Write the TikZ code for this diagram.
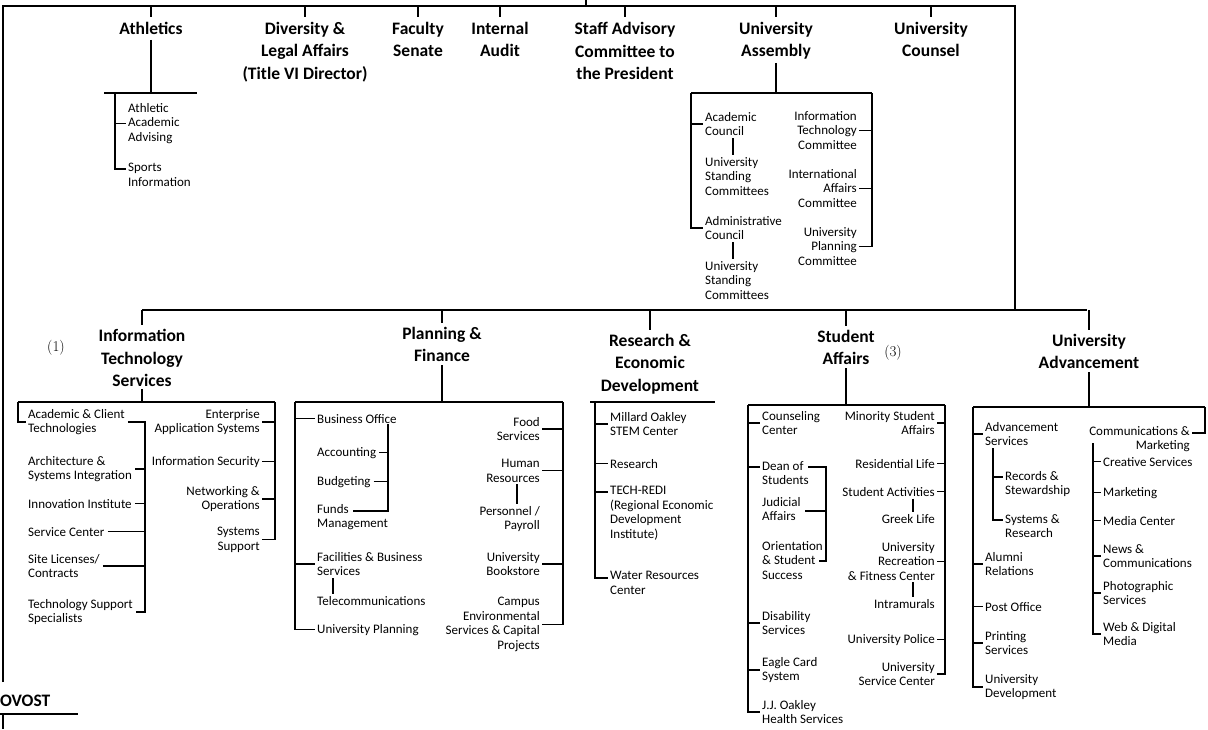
\documentclass[tikz,border=0pt]{standalone}
\usepackage{fontspec}
\setmainfont{Carlito}
\newfontfamily\notefont{Latin Modern Roman}
\usetikzlibrary{calc}
\newcommand\hdfont{\fontsize{17.5}{22.5}\selectfont\bfseries}
\newcommand\sbfont{\fontsize{13}{14.5}\selectfont}
\begin{document}
\begin{tikzpicture}[x=1pt,y=-1pt,
  ln/.style={line width=1.8pt},
  tk/.style={line width=1.3pt},
  hd/.style={anchor=north, align=center, font=\hdfont, inner sep=0pt},
  lt/.style={anchor=north west, align=left, font=\sbfont, inner sep=0pt},
  rt/.style={anchor=north east, align=right, font=\sbfont, inner sep=0pt},
  nt/.style={font=\notefont\fontsize{15}{17}\selectfont, inner sep=0pt}]
\useasboundingbox[fill=white] (0,0) rectangle (1208,729);

% ---------- top level ----------
\coordinate (tl) at (3,6);
\coordinate (tr) at (1015,6);
\coordinate (lb) at (3,682);
\coordinate (pres) at (586,0);
\coordinate (ml) at (142,310);
\coordinate (mr) at (1087,310);
\draw[ln] (lb) -- (tl) -- (tr) -- (tr |- ml);
\draw[ln] (pres) -- (pres |- tl);
\draw[ln] (ml) -- (mr);

\node[hd] (ath) at (151,22) {Athletics};
\node[hd] (div) at (305,22) {Diversity \&\\Legal Affairs\\(Title VI Director)};
\node[hd] (fac) at (418,22) {Faculty\\Senate};
\node[hd] (aud) at (500,22) {Internal\\Audit};
\node[hd] (staff) at (625,22) {Staff Advisory\\Committee to\\the President};
\node[hd] (ua) at (776,22) {University\\Assembly};
\node[hd] (uc) at (931,22) {University\\Counsel};
\foreach \n in {ath,div,fac,aud,staff,ua,uc}
  \draw[tk,shorten >=5pt] (\n.north |- tl) -- (\n.north);

% Athletics
\coordinate (athL) at (104,93);
\coordinate (athR) at (197,93);
\coordinate (athb) at (115,93);
\draw[ln] (athL) -- (athR);
\draw[ln,shorten <=5pt] (ath.south) -- (ath.south |- athL);
\node[lt] (aaa) at (128,103) {Athletic\\Academic\\Advising};
\node[lt] (si) at (128,163) {Sports\\Information};
\draw[tk] (athb) |- ([shift={(-2,6)}]si.north west);
\draw[tk] (aaa.west -| athb) -- ([xshift=-2pt]aaa.west);

% University Assembly
\coordinate (uaL) at (691,93);
\coordinate (uaR) at (872,93);
\draw[ln] (uaL) -- (uaR);
\draw[ln,shorten <=3pt] (ua.south) -- (ua.south |- uaL);
\node[lt] (acc) at (705,112) {Academic\\Council};
\node[lt] (usc1) at (705,157) {University\\Standing\\Committees};
\node[lt] (adc) at (705,216) {Administrative\\Council};
\node[lt] (usc2) at (705,261) {University\\Standing\\Committees};
\node[rt] (itc) at (857,111) {Information\\Technology\\Committee};
\node[rt] (iac) at (857,169) {International\\Affairs\\Committee};
\node[rt] (upc) at (857,227) {University\\Planning\\Committee};
\draw[tk] (uaL) |- ([xshift=-2pt]adc.west);
\draw[tk] (acc.west -| uaL) -- ([xshift=-2pt]acc.west);
\draw[tk,shorten <=2pt,shorten >=2pt] ([xshift=28pt]acc.south west) -- ([xshift=28pt]usc1.north west);
\draw[tk,shorten <=2pt,shorten >=2pt] ([xshift=28pt]adc.south west) -- ([xshift=28pt]usc2.north west);
\draw[tk] (uaR) |- ([xshift=2pt]upc.east);
\draw[tk] ([xshift=2pt]itc.east) -- (itc.east -| uaR);
\draw[tk] ([xshift=2pt]iac.east) -- (iac.east -| uaR);

% ---------- second level ----------
\node[hd] (its) at (142,329) {Information\\Technology\\Services};
\node[hd] (pf) at (442,327) {Planning \&\\Finance};
\node[hd] (red) at (650,334) {Research \&\\Economic\\Development};
\node[hd] (sa) at (846,330) {Student\\Affairs};
\node[hd] (uadv) at (1089,334) {University\\Advancement};
\node[nt] (n1) at (56,348) {(1)};
\node[nt] (n3) at (893,353) {(3)};
\foreach \n in {its,pf,red,sa,uadv}
  \draw[tk,shorten >=4pt] (\n.north |- ml) -- (\n.north);

% Information Technology Services
\coordinate (itsL) at (18,402);
\coordinate (itsR) at (275,402);
\coordinate (ib) at (145,0);
\draw[ln] (itsL) -- (itsR);
\draw[tk,shorten <=2pt] (its.south) -- (its.south |- itsL);
\node[lt] (act) at (28,409) {Academic \& Client\\Technologies};
\node[lt] (asi) at (28,456) {Architecture \&\\Systems Integration};
\node[lt] (ii) at (28,499) {Innovation Institute};
\node[lt] (sc) at (28,527) {Service Center};
\node[lt] (sl) at (28,554) {Site Licenses/\\Contracts};
\node[lt] (tss) at (28,599) {Technology Support\\Specialists};
\draw[tk] (itsL) |- ([xshift=-2pt]act.west);
\draw[tk] ([xshift=3pt]act.east) -- (act.east -| ib) -- (tss.east -| ib) -- ([xshift=3pt]tss.east);
\foreach \n in {asi,ii,sc,sl}
  \draw[tk] ([xshift=3pt]\n.east) -- (\n.east -| ib);
\node[rt] (eas) at (260,409) {Enterprise\\Application Systems};
\node[rt] (isec) at (260,456) {Information Security};
\node[rt] (netop) at (260,486) {Networking \&\\Operations};
\node[rt] (ssup) at (260,527) {Systems\\Support};
\draw[tk] (itsR) |- ([xshift=2pt]ssup.east);
\foreach \n in {eas,isec,netop}
  \draw[tk] ([xshift=2pt]\n.east) -- (\n.east -| itsR);

% Planning & Finance
\coordinate (pfL) at (295,402);
\coordinate (pfR) at (563,402);
\coordinate (pb) at (388,0);
\draw[ln] (pfL) -- (pfR);
\draw[ln,shorten <=3pt] (pf.south) -- (pf.south |- pfL);
\node[lt] (bo) at (317,414) {Business Office};
\node[lt] (acct) at (317,447) {Accounting};
\node[lt] (bud) at (317,476) {Budgeting};
\node[lt] (fm) at (317,504) {Funds\\Management};
\node[lt] (fbs) at (317,552) {Facilities \& Business\\Services};
\node[lt] (tel) at (317,596) {Telecommunications};
\node[lt] (upl) at (317,624) {University Planning};
\draw[tk] (pfL) |- ([xshift=-2pt]upl.west);
\draw[tk] (bo.west -| pfL) -- ([xshift=-2pt]bo.west);
\draw[tk] (fbs.west -| pfL) -- ([xshift=-2pt]fbs.west);
\coordinate (fmf) at ([shift={(36,7)}]fm.north west);
\draw[tk] ([yshift=-1pt]bo.south -| pb) -- (pb |- fmf) -- (fmf);
\draw[tk] ([xshift=3pt]acct.east) -- (acct.east -| pb);
\draw[tk] ([xshift=3pt]bud.east) -- (bud.east -| pb);
\draw[tk,shorten <=2pt,shorten >=2pt] ([xshift=16pt]fbs.south west) -- ([xshift=16pt]tel.north west);
\node[rt] (fs) at (540,417) {Food\\Services};
\node[rt] (hr) at (540,459) {Human\\Resources};
\node[rt] (pp) at (540,506) {Personnel /\\Payroll};
\node[rt] (ub) at (540,552) {University\\Bookstore};
\node[rt] (ces) at (540,597) {Campus\\Environmental\\Services \& Capital\\Projects};
\draw[tk] (pfR) |- ([xshift=2pt]ces.east);
\foreach \n in {fs,hr,ub}
  \draw[tk] ([xshift=2pt]\n.east) -- (\n.east -| pfR);
\draw[tk,shorten <=2pt,shorten >=2pt] ([xshift=-23pt]hr.south east) -- ([xshift=-23pt]pp.north east);

% Research & Economic Development
\coordinate (rL) at (590,402);
\coordinate (rR) at (715,402);
\coordinate (rb) at (595,402);
\draw[ln] (rL) -- (rR);
\node[lt] (mo) at (610,412) {Millard Oakley\\STEM Center};
\node[lt] (rs) at (610,459) {Research};
\node[lt] (tred) at (610,486) {TECH-REDI\\(Regional Economic\\Development\\Institute)};
\node[lt] (wrc) at (610,571) {Water Resources\\Center};
\draw[tk] (rb) |- ([shift={(-2,7)}]wrc.north west);
\draw[tk] (mo.west -| rb) -- ([xshift=-2pt]mo.west);
\draw[tk] (rs.west -| rb) -- ([xshift=-2pt]rs.west);
\coordinate (trf) at ([shift={(-2,6)}]tred.north west);
\draw[tk] (rb |- trf) -- (trf);

% Student Affairs
\coordinate (sL) at (748,405);
\coordinate (sR) at (945,405);
\coordinate (sb) at (826,0);
\draw[ln] (sL) -- (sR);
\draw[ln,shorten <=3pt] (sa.south) -- (sa.south |- sL);
\node[lt] (cc) at (762,411) {Counseling\\Center};
\node[lt] (dos) at (762,461) {Dean of\\Students};
\node[lt] (ja) at (762,497) {Judicial\\Affairs};
\node[lt] (oss) at (762,541) {Orientation\\\& Student\\Success};
\node[lt] (ds) at (762,611) {Disability\\Services};
\node[lt] (ecs) at (762,657) {Eagle Card\\System};
\node[lt] (jj) at (762,700) {J.J. Oakley\\Health Services};
\draw[tk] (sL) |- ([xshift=-2pt]jj.west);
\coordinate (dosf) at ([shift={(-2,6)}]dos.north west);
\draw[tk] (sL |- dosf) -- (dosf);
\foreach \n in {cc,ds,ecs}
  \draw[tk] (\n.west -| sL) -- ([xshift=-2pt]\n.west);
\coordinate (dosr) at ([shift={(46,6)}]dos.north west);
\coordinate (jar) at ([shift={(43,14)}]ja.north west);
\coordinate (ossr) at ([shift={(57,20)}]oss.north west);
\draw[tk] (dosr) -- (sb |- dosr) -- (sb |- ossr) -- (ossr);
\draw[tk] (jar) -- (sb |- jar);
\node[rt] (msa) at (935,411) {Minority Student\\Affairs};
\node[rt] (rl) at (935,459) {Residential Life};
\node[rt] (sact) at (935,487) {Student Activities};
\node[rt] (gl) at (935,514) {Greek Life};
\node[rt] (urf) at (935,542) {University\\Recreation\\\& Fitness Center};
\node[rt] (intr) at (935,599) {Intramurals};
\node[rt] (upo) at (935,634) {University Police};
\node[rt] (usvc) at (935,662) {University\\Service Center};
\draw[tk] (sR) |- ([xshift=2pt]usvc.east);
\foreach \n in {msa,rl,sact,urf,upo}
  \draw[tk] ([xshift=2pt]\n.east) -- (\n.east -| sR);
\draw[tk,shorten <=2pt,shorten >=2pt] ([xshift=-22pt]sact.south east) -- ([xshift=-22pt]gl.north east);
\draw[tk,shorten <=2pt,shorten >=2pt] ([xshift=-22pt]urf.south east) -- ([xshift=-22pt]intr.north east);

% University Advancement
\coordinate (vL) at (973,407);
\coordinate (vR) at (1205,407);
\coordinate (ab) at (993,0);
\coordinate (cb) at (1093,0);
\draw[ln] (vL) -- (vR);
\draw[ln,shorten <=3pt] (uadv.south) -- (uadv.south |- vL);
\node[lt] (as) at (985,422) {Advancement\\Services};
\node[lt] (rsw) at (1005,471) {Records \&\\Stewardship};
\node[lt] (sr) at (1005,514) {Systems \&\\Research};
\node[lt] (ar) at (985,552) {Alumni\\Relations};
\node[lt] (po) at (985,602) {Post Office};
\node[lt] (prs) at (985,631) {Printing\\Services};
\node[lt] (ud) at (985,674) {University\\Development};
\draw[tk] (vL) |- ([xshift=-2pt]ud.west);
\foreach \n in {as,ar,po,prs}
  \draw[tk] (\n.west -| vL) -- ([xshift=-2pt]\n.west);
\coordinate (rswf) at ([shift={(-2,6)}]rsw.north west);
\coordinate (srf) at ([shift={(-2,6)}]sr.north west);
\draw[tk] ([yshift=-2pt]as.south -| ab) -- (ab |- srf) -- (srf);
\draw[tk] (ab |- rswf) -- (rswf);
\node[rt] (cm) at (1190,426) {Communications \&\\Marketing};
\draw[tk] (vR) |- ([shift={(2,7)}]cm.north east);
\node[lt] (crs) at (1103,457) {Creative Services};
\node[lt] (mkt) at (1103,487) {Marketing};
\node[lt] (mc) at (1103,516) {Media Center};
\node[lt] (nc) at (1103,544) {News \&\\Communications};
\node[lt] (phs) at (1103,581) {Photographic\\Services};
\node[lt] (wdm) at (1103,622) {Web \& Digital\\Media};
\coordinate (cbt) at ([yshift=-17pt]cm.north);
\draw[tk] (cb |- cbt) -- (cb |- wdm.west) -- ([xshift=-2pt]wdm.west);
\foreach \n in {crs,mkt,mc,nc,phs}
  \draw[tk] (\n.west -| cb) -- ([xshift=-2pt]\n.west);

% Provost
\node[font=\hdfont, anchor=west, inner sep=0pt] (prov) at (0,701) {OVOST};
\coordinate (pu1) at (0,714);
\coordinate (pu2) at (78,714);
\coordinate (pvb) at (3,729);
\draw[ln] (pu1) -- (pu2);
\draw[ln] (pu1 -| pvb) -- (pvb);
\end{tikzpicture}
\end{document}
